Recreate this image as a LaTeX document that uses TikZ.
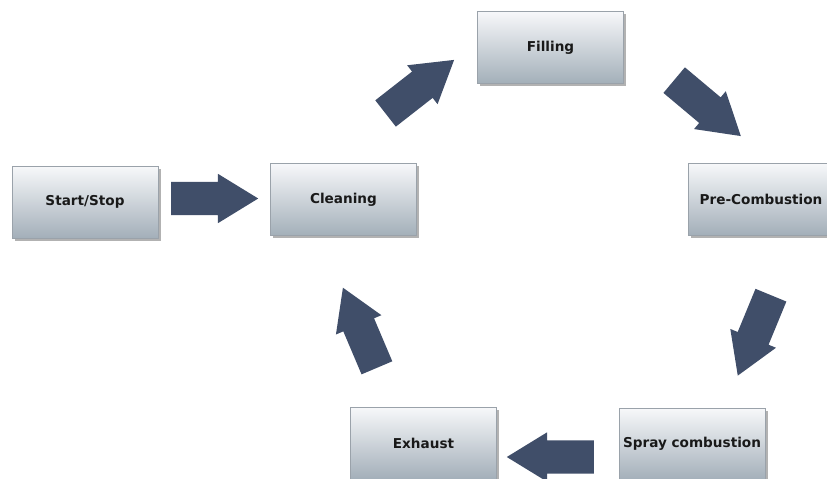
\documentclass[tikz,border=0pt]{standalone}
\usepackage{fontspec}
\setmainfont{DejaVu Sans}
\usetikzlibrary{shapes.arrows,shadows}
\definecolor{arrowfill}{HTML}{404E69}
\definecolor{boxtop}{HTML}{F7F8FA}
\definecolor{boxbottom}{HTML}{A3AFB9}
\definecolor{boxedge}{HTML}{9AA2AA}
\tikzset{
  stepbox/.style={draw=boxedge, line width=0.8pt, top color=boxtop, bottom color=boxbottom,
    minimum width=146pt, minimum height=72pt, inner sep=0pt,
    font=\fontsize{13.6}{16}\selectfont\bfseries, text=black!90,
    drop shadow={shadow xshift=2.5pt, shadow yshift=-2.5pt, fill=black, opacity=0.3}},
  flow/.style={single arrow, fill=arrowfill, draw=none, inner xsep=0pt, inner ysep=16.5pt,
    minimum height=87pt, single arrow head extend=8pt,
    single arrow tip angle=63, anchor=tail}
}
\begin{document}
\begin{tikzpicture}[x=1pt,y=-1pt]
  \fill[white] (0,0) rectangle (827,479);
  \useasboundingbox (0,0) rectangle (827,479);
  \clip (0,0) rectangle (827,479);

  % process stages
  \node[stepbox] (start) at (85,202) {Start/Stop};
  \node[stepbox] (clean) at (343.5,199.5) {Cleaning};
  \node[stepbox] (fill)  at (550.5,47.5) {Filling};
  \node[stepbox] (pre)   at (761,199) {Pre-Combustion};
  \node[stepbox] (spray) at (692,444) {Spray combustion};
  \node[stepbox] (exh)   at (423.5,443) {Exhaust};

  % block arrows between the stages, placed by their tails
  \node[flow] (a1) at (171,198.5) {};
  \node[flow, rotate=38] (a2) at (385.4,113.6) {};
  \node[flow, rotate=-40] (a3) at (674,80) {};
  \node[flow, rotate=247.6] (a4) at (771,295) {};
  \node[flow, rotate=180] (a5) at (594,457) {};
  \node[flow, rotate=113] (a6) at (377,368) {};
\end{tikzpicture}
\end{document}
